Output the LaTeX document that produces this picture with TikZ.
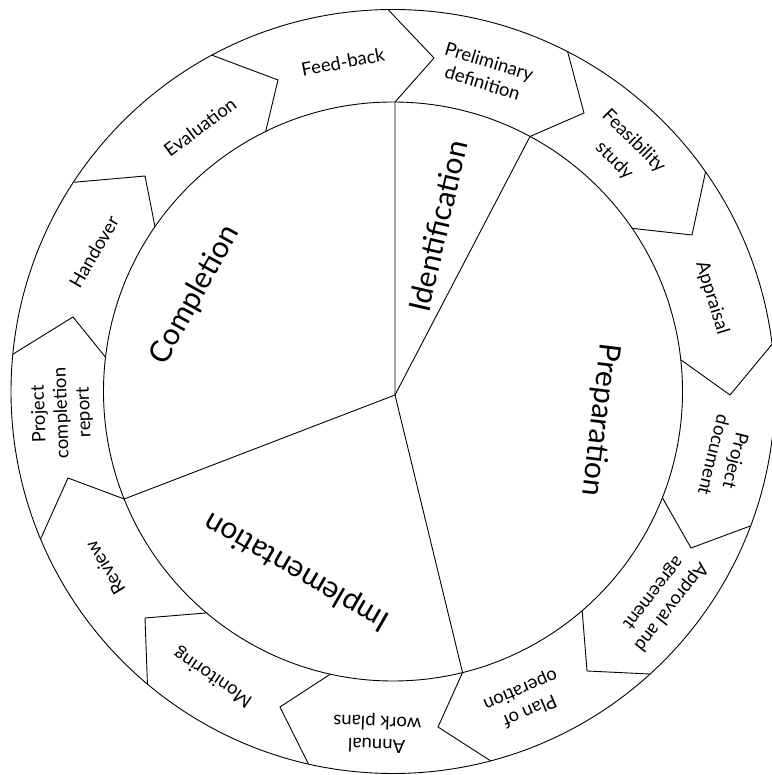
\documentclass[tikz,border=0pt]{standalone}
\usepackage{fontspec}
\setmainfont{Lato}
\usetikzlibrary{calc}
\begin{document}
\begin{tikzpicture}[x=1pt,y=1pt,
  ring/.style={line width=0.9pt, draw=black, line join=miter},
  lbl/.style={font=\fontsize{18.5}{22.5}\selectfont, align=center, inner sep=0pt},
  phase/.style={font=\fontsize{30}{33}\selectfont, inner sep=0pt}]
\useasboundingbox (0,0) rectangle (771,775);
\def\Ro{382}
\def\Ri{289.5}
\coordinate (C) at (393,383.5);
\coordinate (H) at (395,380);
% circles
\draw[ring] (C) circle[radius=\Ro];
\draw[ring] (C) circle[radius=\Ri];
% outer boundary points
\foreach \n/\a in {1/90.75,2/62.8,3/35.1,4/7.1,5/-20.6,6/-47.7,7/-75.2,8/-102.8,9/-130,10/-157.3,11/174.4,12/146.8,13/118.3}
  \coordinate (o\n) at ($(C)+(\a:\Ro)$);
\foreach \n/\a in {1/89.6,2/61.75,3/34.3,4/6.3,5/-21.5,6/-49.2,7/-76.1,8/-102.5,9/-130.1,10/-158.2,11/173.2,12/145.3,13/116.1}
  \coordinate (i\n) at ($(C)+(\a:\Ri)$);
\coordinate (t1) at (434,717);
\coordinate (t2) at (584,662);
\coordinate (t3) at (692,540);
\coordinate (t4) at (730,380);
\coordinate (t5) at (691,227);
\coordinate (t6) at (587,104);
\coordinate (t7) at (438,48);
\coordinate (t8) at (280,68);
\coordinate (t9) at (145,157);
\coordinate (t10) at (68,297);
\coordinate (t11) at (73,458);
\coordinate (t12) at (145,599);
\coordinate (t13) at (278,695);
% chevron boundaries
\foreach \n in {1,...,13}
  \draw[ring] (o\n) -- (t\n) -- (i\n);
% sector lines
\draw[ring] (H) -- (i1);
\draw[ring] (H) -- (i2);
\draw[ring] (H) -- (i7);
\draw[ring] (H) -- (i10);
% ring labels
\node[lbl, rotate=11] (feed) at (343,713) {Feed-back};
\node[lbl, rotate=-17] (prelim) at (486,703) {Preliminary\\definition};
\node[lbl, rotate=-45] (feas) at (624,624) {Feasibility\\[5pt]study};
\node[lbl, rotate=-73] (appr) at (712,477) {Appraisal};
\node[lbl, rotate=-104] (pdoc) at (725,317) {Project\\document};
\node[lbl, rotate=-128] (agree) at (662,175) {Approval and\\agreement};
\node[lbl, rotate=-157] (plan) at (525,75) {Plan of\\operation};
\node[lbl, rotate=178] (annual) at (377,42) {Annual\\work plans};
\node[lbl, rotate=146] (monit) at (213,98) {Monitoring};
\node[lbl, rotate=122] (review) at (105,207) {Review};
\node[lbl, rotate=92] (pcr) at (62,362) {Project\\completion\\report};
\node[lbl, rotate=60] (hand) at (94,523) {Handover};
\node[lbl, rotate=37] (eval) at (200,648) {Evaluation};
% phase labels
\node[phase, rotate=77] (ident) at (438,549) {Identification};
\node[phase, rotate=-97] (prep) at (600,355) {Preparation};
\node[phase, rotate=150] (impl) at (297,204) {Implementation};
\node[phase, rotate=61] (compl) at (195,480) {Completion};
\end{tikzpicture}
\end{document}
